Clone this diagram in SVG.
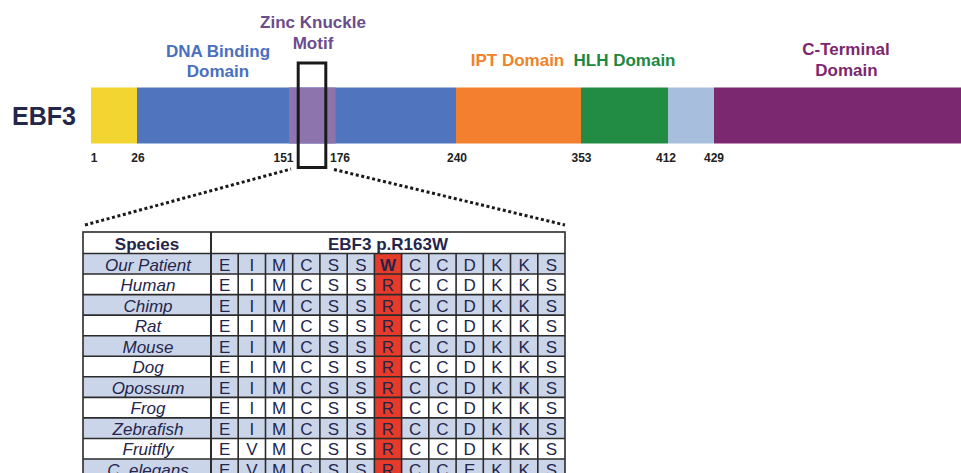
<svg xmlns="http://www.w3.org/2000/svg" width="961" height="473" viewBox="0 0 961 473">
  <style>
    .lbl { font-family: "Liberation Sans", Arial, sans-serif; font-weight: bold; font-size: 17px; text-anchor: middle; }
    .num { font-family: "Liberation Sans", Arial, sans-serif; font-weight: bold; font-size: 12px; fill: #222; text-anchor: middle; }
    .hdr { font-family: "Liberation Sans", Arial, sans-serif; font-weight: bold; font-size: 17px; fill: #24254a; text-anchor: middle; }
    .sp { font-family: "Liberation Sans", Arial, sans-serif; font-style: italic; font-size: 17px; fill: #24254a; text-anchor: middle; }
    .aa { font-family: "Liberation Sans", Arial, sans-serif; font-size: 17px; fill: #24254a; text-anchor: middle; }
    .aab { font-family: "Liberation Sans", Arial, sans-serif; font-weight: bold; font-size: 17px; fill: #24254a; text-anchor: middle; }
    .grid { stroke: #2b2b2b; stroke-width: 1.6; fill: none; }
    .alt { fill: #cbd5ea; }
    .red { fill: #e63a2a; }
    .dots { stroke: #1a1a1a; stroke-width: 3; stroke-dasharray: 3 2.6; fill: none; }
  </style>

  <rect width="961" height="473" fill="#ffffff"/>

  <!-- protein name -->
  <text x="44" y="124.5" font-family="Liberation Sans, Arial, sans-serif" font-weight="bold" font-size="25" fill="#24264a" text-anchor="middle">EBF3</text>

  <!-- domain bar -->
  <g id="domain-bar">
    <rect id="n-term" x="91" y="87.5" width="46" height="56" fill="#f2d530"/>
    <rect id="dna-binding" x="137" y="87.5" width="319" height="56" fill="#5174be"/>
    <rect id="zinc-knuckle" x="289" y="87.5" width="46.5" height="56" fill="#8d74ad"/>
    <rect id="ipt" x="456" y="87.5" width="125" height="56" fill="#f2802e"/>
    <rect id="hlh" x="581" y="87.5" width="87" height="56" fill="#228b44"/>
    <rect id="linker" x="668" y="87.5" width="46" height="56" fill="#a7bfdc"/>
    <rect id="c-terminal" x="714" y="87.5" width="247" height="56" fill="#7b2870"/>
  </g>

  <!-- domain labels -->
  <g id="domain-labels">
    <text class="lbl" x="218" y="57" fill="#4a6fc0">DNA Binding</text>
    <text class="lbl" x="218" y="77" fill="#4a6fc0">Domain</text>
    <text class="lbl" x="313" y="28" fill="#6b4c8c">Zinc Knuckle</text>
    <text class="lbl" x="313" y="49" fill="#6b4c8c">Motif</text>
    <text class="lbl" x="517.5" y="65.5" fill="#f08228">IPT Domain</text>
    <text class="lbl" x="624.5" y="65.5" fill="#21873e">HLH Domain</text>
    <text class="lbl" x="846" y="55" fill="#7b2770">C-Terminal</text>
    <text class="lbl" x="846.5" y="76" fill="#7b2770">Domain</text>
  </g>

  <!-- residue positions -->
  <g id="positions">
    <text class="num" x="94" y="161.5">1</text>
    <text class="num" x="138" y="161.5">26</text>
    <text class="num" x="283.5" y="161.5">151</text>
    <text class="num" x="340" y="161.5">176</text>
    <text class="num" x="457" y="161.5">240</text>
    <text class="num" x="581.5" y="161.5">353</text>
    <text class="num" x="666" y="161.5">412</text>
    <text class="num" x="714" y="161.5">429</text>
  </g>

  <!-- zoom box and callout lines -->
  <g id="connectors">
    <rect x="298.2" y="63" width="27.6" height="104.5" fill="none" stroke="#1a1a1a" stroke-width="3"/>
    <line class="dots" x1="85" y1="225" x2="291" y2="169"/>
    <line class="dots" x1="334" y1="169.5" x2="565" y2="225"/>
  </g>

  <!-- alignment table -->
  <g id="alignment">
    <!-- row shading -->
    <rect class="alt" x="83" y="253.5" width="482" height="20.55"/>
    <rect class="alt" x="83" y="294.6" width="482" height="20.55"/>
    <rect class="alt" x="83" y="335.7" width="482" height="20.55"/>
    <rect class="alt" x="83" y="376.8" width="482" height="20.55"/>
    <rect class="alt" x="83" y="417.9" width="482" height="20.55"/>
    <rect class="alt" x="83" y="459.0" width="482" height="20.55"/>
    <!-- conserved arginine column -->
    <rect class="red" x="374.4" y="253.5" width="27.2" height="225"/>

    <!-- grid -->
    <rect class="grid" x="83" y="232" width="482" height="250" stroke-width="2.2"/>
    <g class="grid">
      <line x1="83" y1="253.5" x2="565" y2="253.5"/>
      <line x1="83" y1="274.05" x2="565" y2="274.05"/>
      <line x1="83" y1="294.6" x2="565" y2="294.6"/>
      <line x1="83" y1="315.15" x2="565" y2="315.15"/>
      <line x1="83" y1="335.7" x2="565" y2="335.7"/>
      <line x1="83" y1="356.25" x2="565" y2="356.25"/>
      <line x1="83" y1="376.8" x2="565" y2="376.8"/>
      <line x1="83" y1="397.35" x2="565" y2="397.35"/>
      <line x1="83" y1="417.9" x2="565" y2="417.9"/>
      <line x1="83" y1="438.45" x2="565" y2="438.45"/>
      <line x1="83" y1="459.0" x2="565" y2="459.0"/>
      <line x1="211" y1="232" x2="211" y2="473" stroke-width="2"/>
      <line x1="238.2" y1="253.5" x2="238.2" y2="473"/>
      <line x1="265.5" y1="253.5" x2="265.5" y2="473"/>
      <line x1="292.7" y1="253.5" x2="292.7" y2="473"/>
      <line x1="319.9" y1="253.5" x2="319.9" y2="473"/>
      <line x1="347.2" y1="253.5" x2="347.2" y2="473"/>
      <line x1="374.4" y1="253.5" x2="374.4" y2="473"/>
      <line x1="401.6" y1="253.5" x2="401.6" y2="473"/>
      <line x1="428.8" y1="253.5" x2="428.8" y2="473"/>
      <line x1="456.1" y1="253.5" x2="456.1" y2="473"/>
      <line x1="483.3" y1="253.5" x2="483.3" y2="473"/>
      <line x1="510.5" y1="253.5" x2="510.5" y2="473"/>
      <line x1="537.8" y1="253.5" x2="537.8" y2="473"/>
    </g>

    <!-- header -->
    <text class="hdr" x="147" y="249.5">Species</text>
    <text class="hdr" x="388" y="249.5">EBF3 p.R163W</text>

    <!-- species names -->
    <text class="sp" x="148" y="270.5">Our Patient</text>
    <text class="sp" x="148" y="291">Human</text>
    <text class="sp" x="148" y="311.5">Chimp</text>
    <text class="sp" x="148" y="332">Rat</text>
    <text class="sp" x="148" y="352.5">Mouse</text>
    <text class="sp" x="148" y="373">Dog</text>
    <text class="sp" x="148" y="393.5">Opossum</text>
    <text class="sp" x="148" y="414">Frog</text>
    <text class="sp" x="148" y="434.5">Zebrafish</text>
    <text class="sp" x="148" y="455">Fruitfly</text>
    <text class="sp" x="148" y="475.5">C. elegans</text>

    <!-- residues: columns centred at 224.6 + 27.23*j -->
    <g id="row-patient">
      <text class="aa" x="224.6" y="270.5">E</text><text class="aa" x="251.8" y="270.5">I</text><text class="aa" x="279.1" y="270.5">M</text><text class="aa" x="306.3" y="270.5">C</text><text class="aa" x="333.5" y="270.5">S</text><text class="aa" x="360.8" y="270.5">S</text><text class="aab" x="388" y="270.5">W</text><text class="aa" x="415.2" y="270.5">C</text><text class="aa" x="442.4" y="270.5">C</text><text class="aa" x="469.7" y="270.5">D</text><text class="aa" x="496.9" y="270.5">K</text><text class="aa" x="524.1" y="270.5">K</text><text class="aa" x="551.4" y="270.5">S</text>
    </g>
    <g id="row-human">
      <text class="aa" x="224.6" y="291">E</text><text class="aa" x="251.8" y="291">I</text><text class="aa" x="279.1" y="291">M</text><text class="aa" x="306.3" y="291">C</text><text class="aa" x="333.5" y="291">S</text><text class="aa" x="360.8" y="291">S</text><text class="aa" x="388" y="291">R</text><text class="aa" x="415.2" y="291">C</text><text class="aa" x="442.4" y="291">C</text><text class="aa" x="469.7" y="291">D</text><text class="aa" x="496.9" y="291">K</text><text class="aa" x="524.1" y="291">K</text><text class="aa" x="551.4" y="291">S</text>
    </g>
    <g id="row-chimp">
      <text class="aa" x="224.6" y="311.5">E</text><text class="aa" x="251.8" y="311.5">I</text><text class="aa" x="279.1" y="311.5">M</text><text class="aa" x="306.3" y="311.5">C</text><text class="aa" x="333.5" y="311.5">S</text><text class="aa" x="360.8" y="311.5">S</text><text class="aa" x="388" y="311.5">R</text><text class="aa" x="415.2" y="311.5">C</text><text class="aa" x="442.4" y="311.5">C</text><text class="aa" x="469.7" y="311.5">D</text><text class="aa" x="496.9" y="311.5">K</text><text class="aa" x="524.1" y="311.5">K</text><text class="aa" x="551.4" y="311.5">S</text>
    </g>
    <g id="row-rat">
      <text class="aa" x="224.6" y="332">E</text><text class="aa" x="251.8" y="332">I</text><text class="aa" x="279.1" y="332">M</text><text class="aa" x="306.3" y="332">C</text><text class="aa" x="333.5" y="332">S</text><text class="aa" x="360.8" y="332">S</text><text class="aa" x="388" y="332">R</text><text class="aa" x="415.2" y="332">C</text><text class="aa" x="442.4" y="332">C</text><text class="aa" x="469.7" y="332">D</text><text class="aa" x="496.9" y="332">K</text><text class="aa" x="524.1" y="332">K</text><text class="aa" x="551.4" y="332">S</text>
    </g>
    <g id="row-mouse">
      <text class="aa" x="224.6" y="352.5">E</text><text class="aa" x="251.8" y="352.5">I</text><text class="aa" x="279.1" y="352.5">M</text><text class="aa" x="306.3" y="352.5">C</text><text class="aa" x="333.5" y="352.5">S</text><text class="aa" x="360.8" y="352.5">S</text><text class="aa" x="388" y="352.5">R</text><text class="aa" x="415.2" y="352.5">C</text><text class="aa" x="442.4" y="352.5">C</text><text class="aa" x="469.7" y="352.5">D</text><text class="aa" x="496.9" y="352.5">K</text><text class="aa" x="524.1" y="352.5">K</text><text class="aa" x="551.4" y="352.5">S</text>
    </g>
    <g id="row-dog">
      <text class="aa" x="224.6" y="373">E</text><text class="aa" x="251.8" y="373">I</text><text class="aa" x="279.1" y="373">M</text><text class="aa" x="306.3" y="373">C</text><text class="aa" x="333.5" y="373">S</text><text class="aa" x="360.8" y="373">S</text><text class="aa" x="388" y="373">R</text><text class="aa" x="415.2" y="373">C</text><text class="aa" x="442.4" y="373">C</text><text class="aa" x="469.7" y="373">D</text><text class="aa" x="496.9" y="373">K</text><text class="aa" x="524.1" y="373">K</text><text class="aa" x="551.4" y="373">S</text>
    </g>
    <g id="row-opossum">
      <text class="aa" x="224.6" y="393.5">E</text><text class="aa" x="251.8" y="393.5">I</text><text class="aa" x="279.1" y="393.5">M</text><text class="aa" x="306.3" y="393.5">C</text><text class="aa" x="333.5" y="393.5">S</text><text class="aa" x="360.8" y="393.5">S</text><text class="aa" x="388" y="393.5">R</text><text class="aa" x="415.2" y="393.5">C</text><text class="aa" x="442.4" y="393.5">C</text><text class="aa" x="469.7" y="393.5">D</text><text class="aa" x="496.9" y="393.5">K</text><text class="aa" x="524.1" y="393.5">K</text><text class="aa" x="551.4" y="393.5">S</text>
    </g>
    <g id="row-frog">
      <text class="aa" x="224.6" y="414">E</text><text class="aa" x="251.8" y="414">I</text><text class="aa" x="279.1" y="414">M</text><text class="aa" x="306.3" y="414">C</text><text class="aa" x="333.5" y="414">S</text><text class="aa" x="360.8" y="414">S</text><text class="aa" x="388" y="414">R</text><text class="aa" x="415.2" y="414">C</text><text class="aa" x="442.4" y="414">C</text><text class="aa" x="469.7" y="414">D</text><text class="aa" x="496.9" y="414">K</text><text class="aa" x="524.1" y="414">K</text><text class="aa" x="551.4" y="414">S</text>
    </g>
    <g id="row-zebrafish">
      <text class="aa" x="224.6" y="434.5">E</text><text class="aa" x="251.8" y="434.5">I</text><text class="aa" x="279.1" y="434.5">M</text><text class="aa" x="306.3" y="434.5">C</text><text class="aa" x="333.5" y="434.5">S</text><text class="aa" x="360.8" y="434.5">S</text><text class="aa" x="388" y="434.5">R</text><text class="aa" x="415.2" y="434.5">C</text><text class="aa" x="442.4" y="434.5">C</text><text class="aa" x="469.7" y="434.5">D</text><text class="aa" x="496.9" y="434.5">K</text><text class="aa" x="524.1" y="434.5">K</text><text class="aa" x="551.4" y="434.5">S</text>
    </g>
    <g id="row-fruitfly">
      <text class="aa" x="224.6" y="455">E</text><text class="aa" x="251.8" y="455">V</text><text class="aa" x="279.1" y="455">M</text><text class="aa" x="306.3" y="455">C</text><text class="aa" x="333.5" y="455">S</text><text class="aa" x="360.8" y="455">S</text><text class="aa" x="388" y="455">R</text><text class="aa" x="415.2" y="455">C</text><text class="aa" x="442.4" y="455">C</text><text class="aa" x="469.7" y="455">D</text><text class="aa" x="496.9" y="455">K</text><text class="aa" x="524.1" y="455">K</text><text class="aa" x="551.4" y="455">S</text>
    </g>
    <g id="row-celegans">
      <text class="aa" x="224.6" y="475.5">E</text><text class="aa" x="251.8" y="475.5">V</text><text class="aa" x="279.1" y="475.5">M</text><text class="aa" x="306.3" y="475.5">C</text><text class="aa" x="333.5" y="475.5">S</text><text class="aa" x="360.8" y="475.5">S</text><text class="aa" x="388" y="475.5">R</text><text class="aa" x="415.2" y="475.5">C</text><text class="aa" x="442.4" y="475.5">C</text><text class="aa" x="469.7" y="475.5">E</text><text class="aa" x="496.9" y="475.5">K</text><text class="aa" x="524.1" y="475.5">K</text><text class="aa" x="551.4" y="475.5">S</text>
    </g>
  </g>
</svg>
